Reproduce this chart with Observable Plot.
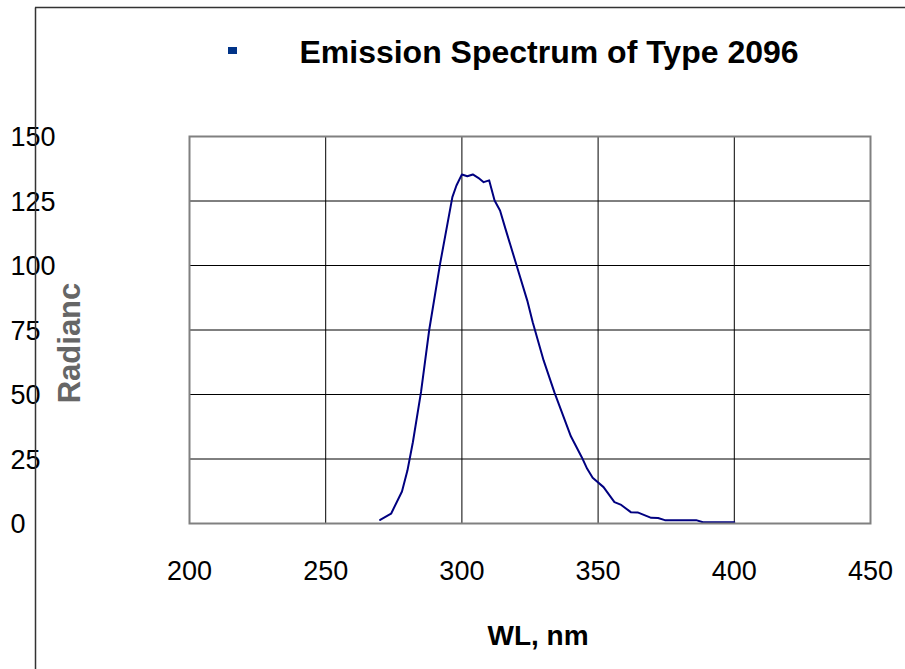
<!DOCTYPE html>
<html>
<head>
<meta charset="utf-8">
<script src="https://cdn.jsdelivr.net/npm/d3@7"></script>
<script src="https://cdn.jsdelivr.net/npm/@observablehq/plot@0.6"></script>
<style>
  html, body { margin: 0; padding: 0; background: #fff; }
  #chart { width: 905px; height: 669px; }
</style>
</head>
<body>
<div id="chart"></div>
<script>
const title = "Emission Spectrum of Type 2096";
const xLabel = "WL, nm";
const yLabel = "Radianc";
const xTicks = [200, 250, 300, 350, 400, 450];
const yTicks = [0, 25, 50, 75, 100, 125, 150];

const wavelength = [270, 274, 278, 280, 282, 285, 286.5, 288, 292, 296.5, 298, 300, 302, 304, 306, 308, 310, 312, 314, 316, 320, 324, 326, 330, 334, 340, 344, 346, 348, 352, 356, 358.5, 362, 364.5, 369.5, 372, 374.5, 386, 388.5, 400];
const radiance   = [1.4, 3.8, 12.4, 20.5, 31.5, 51, 63, 75, 100.7, 126.5, 131, 135.3, 134.6, 135.3, 134, 132.3, 133, 125.2, 121.3, 114.2, 100.3, 86.4, 78, 63.2, 50.7, 33.8, 25.7, 21.2, 17.7, 14.1, 8.3, 7.2, 4.4, 4.3, 2.2, 2.1, 1.3, 1.3, 0.5, 0.5];

const data = wavelength.map((w, i) => ({wl: w, r: radiance[i]}));

const W = 905, H = 669;
const mL = 189, mR = 35, mT = 136, mB = 146;

const plot = Plot.plot({
  width: W,
  height: H,
  marginLeft: mL,
  marginRight: mR,
  marginTop: mT,
  marginBottom: mB,
  style: {fontFamily: "Liberation Sans, Arial, sans-serif", background: "white", color: "black"},
  x: {domain: [200, 450], label: null},
  y: {domain: [0, 150], label: null},
  marks: [
    Plot.gridX(xTicks, {stroke: "black", strokeOpacity: 1, strokeWidth: 1}),
    Plot.gridY(yTicks, {stroke: "black", strokeOpacity: 1, strokeWidth: 1}),
    Plot.line(data, {x: "wl", y: "r", stroke: "#000080", strokeWidth: 2}),
    Plot.frame({stroke: "#808080", strokeWidth: 2}),
    Plot.axisX(xTicks, {anchor: "bottom", tickSize: 0, tickPadding: 37, fontSize: 27, fill: "black", label: null}),
    Plot.axisY(yTicks, {anchor: "left", tickSize: 0, tickPadding: 0, textAnchor: "start", dx: -179, dy: 1, fontSize: 27, fill: "black", label: null}),
    Plot.text([yLabel], {frameAnchor: "left", textAnchor: "middle", rotate: -90, dx: -119, dy: 13, fontSize: 31, fontWeight: "bold", fill: "#666666"}),
    Plot.text([xLabel], {frameAnchor: "bottom", dx: 8, dy: 121, fontSize: 28, fontWeight: "bold", fill: "black"}),
    Plot.text([title], {frameAnchor: "top", dx: 19, dy: -96, fontSize: 32, fontWeight: "bold", fill: "black"})
  ]
});

document.getElementById("chart").appendChild(plot);

// decorative outer border lines and legend swatch
const svg = d3.select(plot);
svg.append("line").attr("x1", 35.5).attr("x2", 35.5).attr("y1", 7.5).attr("y2", H)
  .attr("stroke", "#333").attr("stroke-width", 1.5);
svg.append("line").attr("x1", 35).attr("x2", W).attr("y1", 7.5).attr("y2", 7.5)
  .attr("stroke", "#333").attr("stroke-width", 1.5);
svg.append("rect").attr("x", 228).attr("y", 47).attr("width", 9).attr("height", 7)
  .attr("fill", "#003388");
</script>
</body>
</html>
